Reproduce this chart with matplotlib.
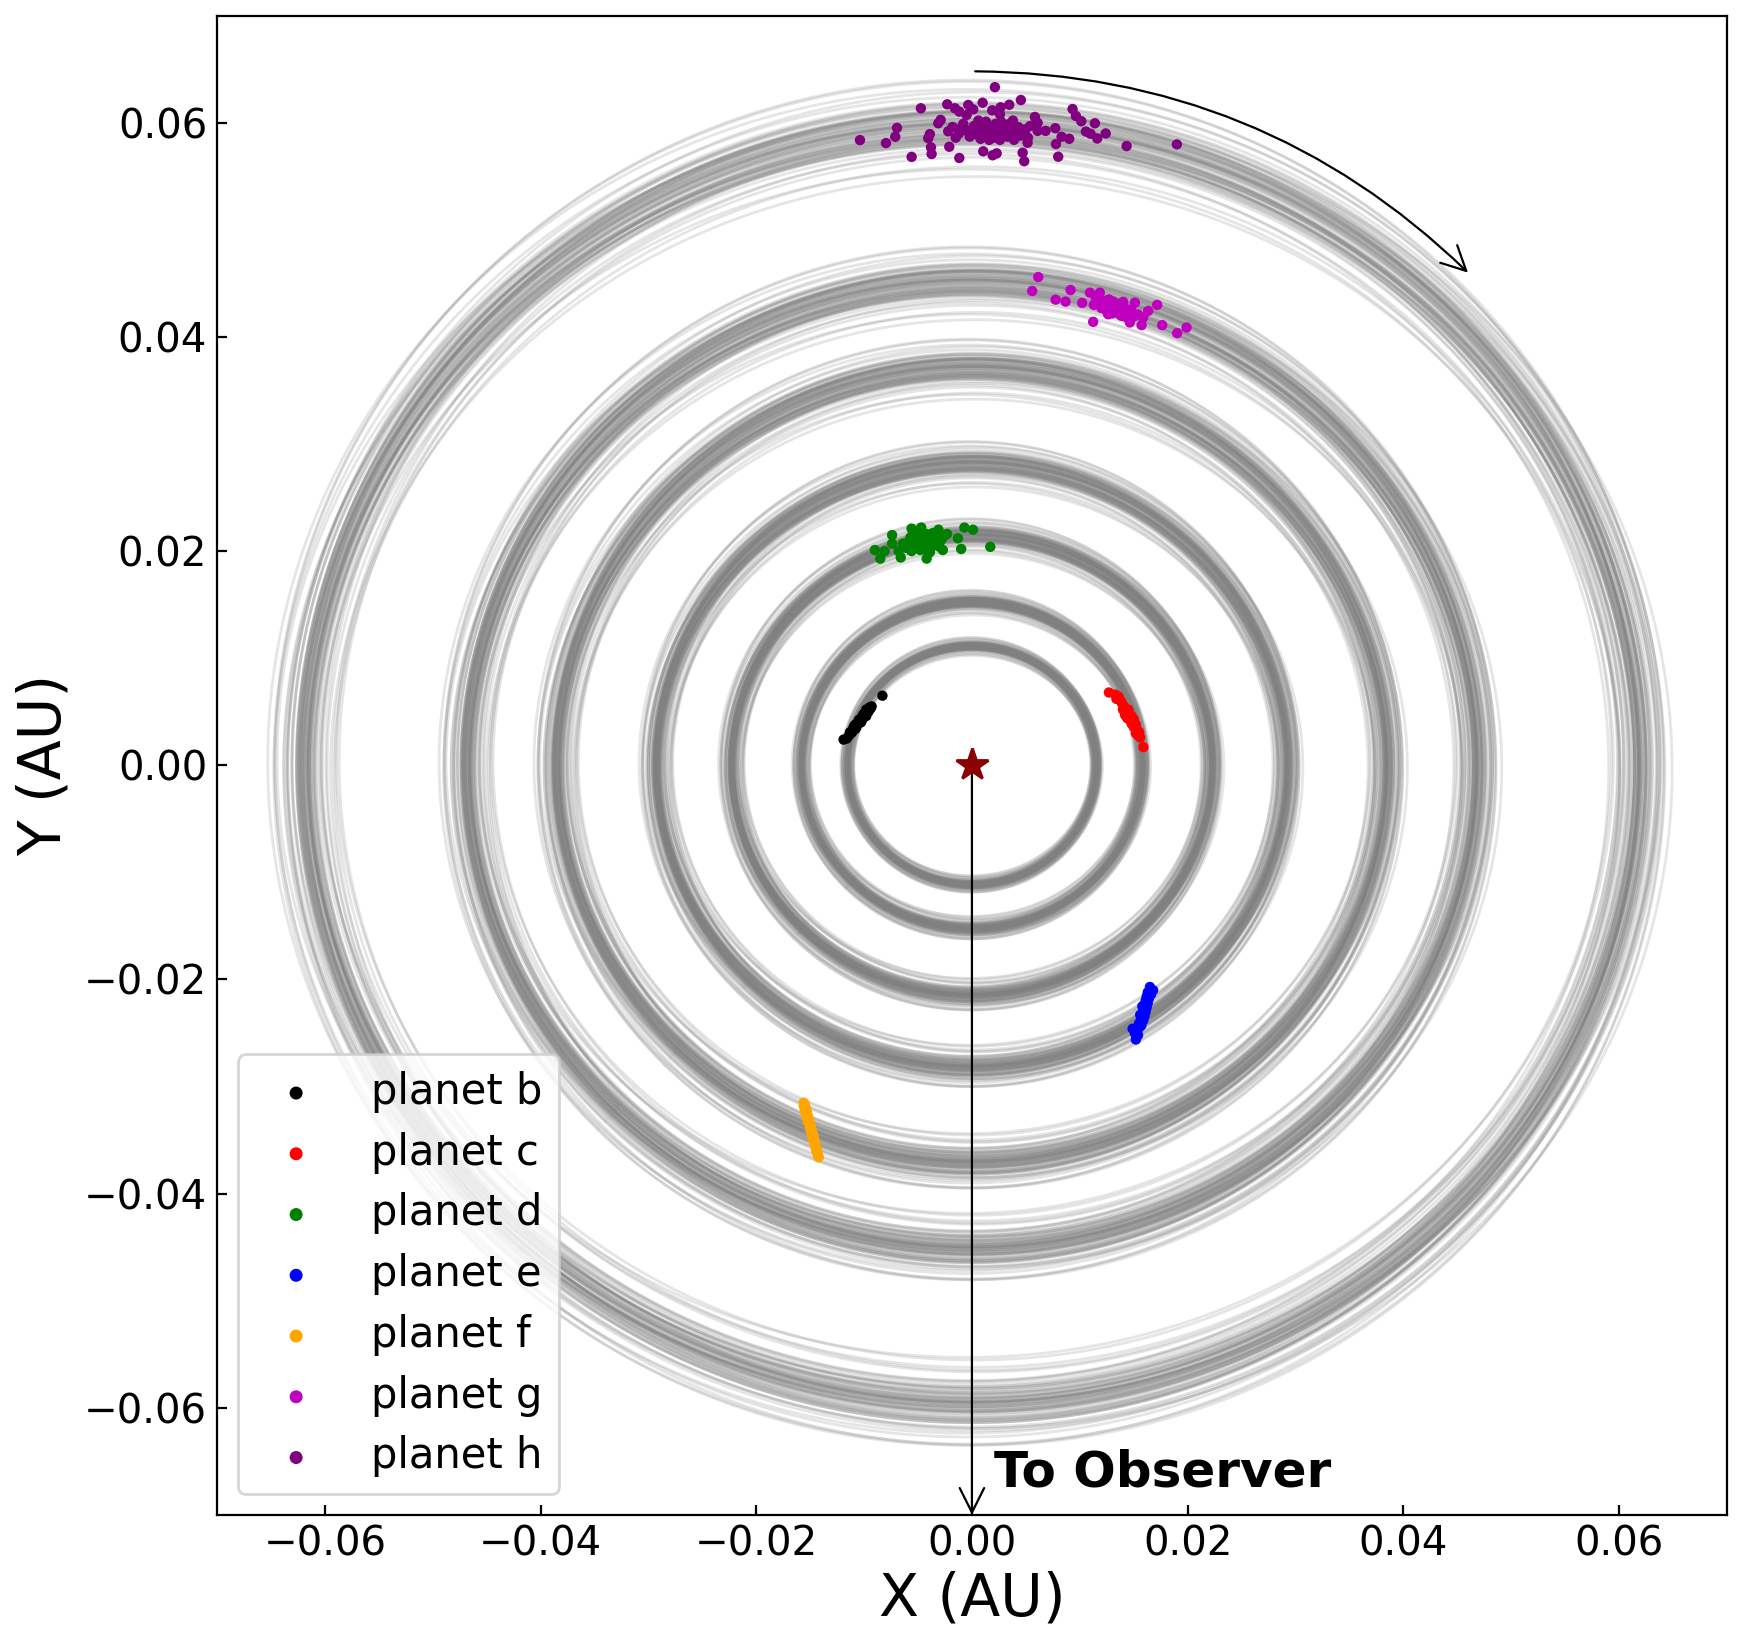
import numpy as np
import matplotlib
matplotlib.use("Agg")
import matplotlib.pyplot as plt

# ---------------- data ----------------
planet_names = ["planet b", "planet c", "planet d", "planet e", "planet f", "planet g", "planet h"]
planet_colors = ["black", "red", "green", "blue", "orange", "m", "purple"]
semi_major = [0.01154, 0.01580, 0.02227, 0.02925, 0.03849, 0.04683, 0.06189]

# orbit posterior samples: size scale, vertical (projected) axis ratio, centre offsets (fraction of a)
scale_samples = [1.000, 0.993, 1.007, 0.996, 1.004, 0.989, 1.011, 0.999, 1.001, 0.986,
                 1.014, 0.995, 1.005, 0.991, 1.009, 0.998, 1.002, 0.983, 1.017, 0.996,
                 1.004, 0.992, 1.008, 0.979, 1.021, 0.997, 1.003, 0.990, 1.010, 0.973,
                 1.027, 0.999, 1.001, 0.987, 1.013, 0.994, 1.006, 0.981, 1.019, 1.000,
                 0.996, 1.004, 0.992, 1.008, 0.985, 1.015, 0.999, 1.001, 0.990, 1.010,
                 0.971, 1.029, 0.997, 1.003, 0.993, 1.007, 0.978, 1.023, 0.994, 1.006,
                 0.962, 1.038, 0.966, 1.035, 0.958, 1.042, 0.969, 1.031, 0.955, 1.045,
                 0.964, 1.036, 0.960, 1.040, 0.972, 1.028]
ratio_samples = [0.965, 0.955, 0.975, 0.961, 0.970, 0.951, 0.979, 0.964, 0.967, 0.959,
                 0.973, 0.947, 0.982, 0.966, 0.963, 0.958, 0.976, 0.968, 0.953, 0.971,
                 0.964, 0.943, 0.986, 0.960, 0.970, 0.967, 0.962, 0.954, 0.978, 0.965,
                 0.969, 0.949, 0.981, 0.961, 0.973, 0.964, 0.967, 0.956, 0.976, 0.940,
                 0.989, 0.966, 0.963, 0.958, 0.972, 0.952, 0.979, 0.967, 0.962, 0.969,
                 0.960, 0.974, 0.949, 0.983, 0.964, 0.966, 0.955, 0.977, 0.961, 0.968,
                 0.945, 0.985, 0.930, 0.995, 0.960, 0.975, 0.925, 0.990, 0.950, 0.970,
                 0.990, 0.935, 0.965, 0.955, 0.980, 0.940]
cx_samples = [0.000, 0.003, -0.002, 0.001, -0.004, 0.002, -0.001, 0.004, -0.003, 0.000,
              0.002, -0.002, 0.005, -0.001, 0.001, -0.005, 0.003, 0.000, -0.002, 0.004,
              -0.003, 0.001, -0.001, 0.006, -0.004, 0.002, 0.000, -0.006, 0.003, -0.002,
              0.001, 0.004, -0.003, 0.000, 0.002, -0.001, 0.005, -0.004, 0.001, -0.002,
              0.003, -0.003, 0.000, 0.002, -0.005, 0.004, -0.001, 0.001, 0.006, -0.002,
              -0.004, 0.002, 0.001, -0.003, 0.000, 0.003, -0.002, 0.004, -0.001, 0.002,
              0.008, -0.007, 0.005, -0.009, 0.010, -0.004, -0.008, 0.006, 0.003, -0.010,
              0.007, -0.005, -0.006, 0.009, 0.004, -0.003]
cy_samples = [0.002, -0.001, 0.003, -0.004, 0.000, 0.001, -0.002, 0.004, 0.000, -0.003,
              -0.001, 0.005, -0.002, 0.002, -0.004, 0.000, 0.003, -0.001, 0.006, -0.003,
              0.001, -0.005, 0.002, 0.000, 0.003, -0.002, 0.004, 0.001, -0.001, 0.005,
              -0.003, 0.000, 0.001, -0.006, 0.002, 0.004, -0.002, 0.000, 0.003, -0.004,
              0.000, 0.002, -0.004, 0.005, 0.001, -0.001, 0.003, -0.005, 0.000, 0.002,
              0.004, -0.002, 0.000, 0.001, -0.003, 0.002, 0.005, -0.001, -0.004, 0.003,
              -0.006, 0.009, -0.010, 0.004, 0.007, -0.008, 0.003, -0.005, 0.010, 0.006,
              -0.009, 0.008, -0.004, -0.007, 0.005, 0.002]

b_x = [-0.0119, -0.0112, -0.0116, -0.0110, -0.0108, -0.0113, -0.0106, -0.0104, -0.0109, -0.0102,
       -0.0100, -0.0105, -0.0098, -0.0101, -0.0096, -0.0099, -0.0094, -0.0097, -0.0103, -0.0107,
       -0.0095, -0.0100, -0.0093, -0.0111, -0.0083, -0.0098, -0.0104, -0.0101, -0.0108, -0.0114]
b_y = [0.0024, 0.0030, 0.0025, 0.0035, 0.0034, 0.0031, 0.0039, 0.0041, 0.0037, 0.0042,
       0.0046, 0.0042, 0.0046, 0.0045, 0.0050, 0.0049, 0.0053, 0.0051, 0.0040, 0.0036,
       0.0054, 0.0048, 0.0055, 0.0031, 0.0065, 0.0052, 0.0043, 0.0047, 0.0038, 0.0028]

c_x = [0.0127, 0.0133, 0.0136, 0.0134, 0.0139, 0.0141, 0.0143, 0.0140, 0.0145, 0.0142,
       0.0146, 0.0148, 0.0144, 0.0147, 0.0149, 0.0150, 0.0152, 0.0151, 0.0153, 0.0155,
       0.0154, 0.0156, 0.0159, 0.0146, 0.0143, 0.0148, 0.0150, 0.0145, 0.0138, 0.0152]
c_y = [0.0068, 0.0066, 0.0064, 0.0062, 0.0058, 0.0055, 0.0051, 0.0052, 0.0049, 0.0047,
       0.0045, 0.0046, 0.0044, 0.0042, 0.0040, 0.0043, 0.0038, 0.0035, 0.0033, 0.0031,
       0.0028, 0.0026, 0.0017, 0.0048, 0.0046, 0.0039, 0.0036, 0.0052, 0.0060, 0.0030]

d_x = [-0.0090, -0.0085, -0.0081, -0.0074, -0.0074, -0.0068, -0.0066, -0.0056, -0.0047, -0.0042,
       -0.0031, -0.0027, -0.0023, -0.0013, -0.0010, -0.0007, 0.0001, 0.0017,
       -0.0045, -0.0050, -0.0040, -0.0055, -0.0035, -0.0048, -0.0042, -0.0058, -0.0032, -0.0052,
       -0.0038, -0.0046, -0.0061, -0.0028, -0.0044, -0.0050, -0.0036, -0.0056, -0.0041, -0.0047,
       -0.0030, -0.0053, -0.0039, -0.0064, -0.0043, -0.0049, -0.0034, -0.0057, -0.0026, -0.0045]
d_y = [0.0201, 0.0193, 0.0200, 0.0215, 0.0207, 0.0200, 0.0194, 0.0221, 0.0222, 0.0193,
       0.0220, 0.0201, 0.0216, 0.0212, 0.0202, 0.0222, 0.0220, 0.0204,
       0.0209, 0.0212, 0.0206, 0.0205, 0.0214, 0.0201, 0.0216, 0.0210, 0.0208, 0.0215,
       0.0203, 0.0213, 0.0203, 0.0211, 0.0205, 0.0207, 0.0217, 0.0200, 0.0211, 0.0218,
       0.0204, 0.0209, 0.0199, 0.0207, 0.0214, 0.0204, 0.0211, 0.0213, 0.0214, 0.0202]

e_x = [0.0165, 0.0168, 0.0163, 0.0166, 0.0162, 0.0164, 0.0161, 0.0163, 0.0160, 0.0162,
       0.0159, 0.0161, 0.0158, 0.0160, 0.0157, 0.0159, 0.0156, 0.0157, 0.0155, 0.0153,
       0.0149, 0.0151, 0.0154, 0.0152, 0.0160, 0.0158, 0.0164, 0.0156, 0.0162, 0.0155]
e_y = [-0.0207, -0.0210, -0.0212, -0.0214, -0.0216, -0.0218, -0.0220, -0.0222, -0.0224, -0.0226,
       -0.0228, -0.0230, -0.0232, -0.0234, -0.0236, -0.0238, -0.0240, -0.0243, -0.0245, -0.0247,
       -0.0246, -0.0250, -0.0252, -0.0256, -0.0229, -0.0225, -0.0215, -0.0233, -0.0219, -0.0241]

f_x = [-0.01560, -0.01548, -0.01560, -0.01540, -0.01550, -0.01530, -0.01540, -0.01522, -0.01530, -0.01512,
       -0.01522, -0.01502, -0.01510, -0.01494, -0.01502, -0.01484, -0.01492, -0.01474, -0.01482, -0.01466,
       -0.01474, -0.01456, -0.01464, -0.01448, -0.01454, -0.01440, -0.01444, -0.01431, -0.01430, -0.01420]
f_y = [-0.0315, -0.0317, -0.0318, -0.0320, -0.0322, -0.0323, -0.0325, -0.0327, -0.0329, -0.0330,
       -0.0332, -0.0334, -0.0335, -0.0337, -0.0339, -0.0341, -0.0342, -0.0344, -0.0346, -0.0347,
       -0.0349, -0.0351, -0.0352, -0.0354, -0.0356, -0.0358, -0.0360, -0.0362, -0.0364, -0.0366]

g_x = [0.00615, 0.00559, 0.00776, 0.00868, 0.00915, 0.01022, 0.01094, 0.01124, 0.01186, 0.01211,
       0.01263, 0.01310, 0.01387, 0.01402, 0.01464, 0.01511, 0.01573, 0.01588, 0.01634, 0.01717,
       0.01764, 0.01903, 0.01990,
       0.0128, 0.0122, 0.0134, 0.0118, 0.0140, 0.0125, 0.0131, 0.0146, 0.0115, 0.0137,
       0.0120, 0.0143, 0.0127, 0.0150, 0.0133, 0.0124, 0.0139, 0.0119, 0.0154, 0.0130,
       0.0136, 0.0126, 0.0142, 0.0113, 0.0148]
g_y = [0.04559, 0.04429, 0.04348, 0.04330, 0.04438, 0.04318, 0.04413, 0.04141, 0.04413, 0.04320,
       0.04212, 0.04320, 0.04197, 0.04327, 0.04135, 0.04320, 0.04110, 0.04181, 0.04243, 0.04299,
       0.04110, 0.04035, 0.04088,
       0.0429, 0.0433, 0.0426, 0.0431, 0.0428, 0.0424, 0.0433, 0.0422, 0.0436, 0.0421,
       0.0427, 0.0426, 0.0435, 0.0419, 0.0430, 0.0429, 0.0424, 0.0434, 0.0421, 0.0422,
       0.0431, 0.0432, 0.0419, 0.0430, 0.0425]

h_x = [-0.01038, -0.00797, -0.00711, -0.00695, -0.00559, -0.00473, -0.00374, -0.00380, -0.00405, -0.00390,
       -0.00312, -0.00290, -0.00229, -0.00210, -0.00158, -0.00117, -0.00117, -0.00049, -0.00034, 0.00012,
       0.00099, 0.00105, 0.00188, 0.00192, 0.00229, 0.00266, 0.00260, 0.00346, 0.00454, 0.00213,
       0.00470, 0.00485, 0.00516, 0.00584, 0.00609, 0.00609, 0.00683, 0.00773, 0.00779, 0.00800,
       0.00831, 0.00902, 0.00933, 0.00964, 0.01014, 0.01057, 0.01100, 0.01140, 0.01162, 0.01240,
       0.01434, 0.01900,
       0.0017, 0.0010, 0.0024, 0.0005, 0.0030, -0.0005, 0.0040, 0.0012, 0.0021, -0.0012,
       0.0035, 0.0008, 0.0045, -0.0018, 0.0027, 0.0014, 0.0050, -0.0008, 0.0033, 0.0019,
       0.0002, 0.0039, 0.0025, -0.0015, 0.0011, 0.0054, 0.0006, 0.0028, -0.0022, 0.0043,
       0.0016, 0.0036, -0.0002, 0.0022, 0.0009, 0.0047, -0.0010, 0.0031, 0.0013, 0.0052,
       0.0019, -0.0003, 0.0038, 0.0026, 0.0004]
h_y = [0.05838, 0.05810, 0.05869, 0.05952, 0.05681, 0.06135, 0.05708, 0.05770, 0.05856, 0.05894,
       0.05995, 0.06026, 0.06172, 0.05776, 0.06135, 0.05671, 0.06104, 0.06073, 0.06166, 0.06125,
       0.06187, 0.05733, 0.06116, 0.05696, 0.05714, 0.06144, 0.06079, 0.06168, 0.06212, 0.06332,
       0.05720, 0.05640, 0.05813, 0.06054, 0.05999, 0.05924, 0.05924, 0.05949, 0.05801, 0.05683,
       0.05869, 0.05850, 0.06128, 0.06063, 0.06014, 0.05918, 0.05897, 0.05995, 0.05853, 0.05900,
       0.05782, 0.05798,
       0.0592, 0.0594, 0.0590, 0.0589, 0.0595, 0.0593, 0.0591, 0.0598, 0.0586, 0.0590,
       0.0599, 0.0585, 0.0588, 0.0596, 0.0601, 0.0589, 0.0594, 0.0599, 0.0587, 0.0596,
       0.0597, 0.0584, 0.0593, 0.0586, 0.0591, 0.0597, 0.0602, 0.0589, 0.0592, 0.0596,
       0.0584, 0.0593, 0.0587, 0.0599, 0.0595, 0.0590, 0.0595, 0.0591, 0.0601, 0.0586,
       0.0588, 0.0591, 0.0602, 0.0584, 0.0593]

planet_x = [b_x, c_x, d_x, e_x, f_x, g_x, h_x]
planet_y = [b_y, c_y, d_y, e_y, f_y, g_y, h_y]

x_ticks = [-0.06, -0.04, -0.02, 0.00, 0.02, 0.04, 0.06]
y_ticks = [-0.06, -0.04, -0.02, 0.00, 0.02, 0.04, 0.06]

# ---------------- plot ----------------
fig = plt.figure(figsize=(8.72, 8.23), dpi=200)
ax = fig.add_axes([0.1244, 0.0796, 0.8658, 0.9109])

theta = np.linspace(1.25 * np.pi, 3.25 * np.pi, 600)
for a in semi_major:
    for s, q, cx, cy in zip(scale_samples, ratio_samples, cx_samples, cy_samples):
        ax.plot(a * (cx + s * np.cos(theta)), a * (cy + s * q * np.sin(theta)),
                color="gray", alpha=0.2, lw=1.0, zorder=1)

for xs, ys, col, name in zip(planet_x, planet_y, planet_colors, planet_names):
    ax.scatter(xs, ys, s=14, color=col, label=name, zorder=3, edgecolors="none")

ax.plot([0], [0], marker="*", color="darkred", markersize=12, zorder=4, linestyle="none")

# arrow to observer
ax.annotate("", xy=(0.0, -0.07), xytext=(0.0, 0.0),
            arrowprops=dict(arrowstyle="->", color="black", lw=0.8,
                            mutation_scale=22, shrinkA=0, shrinkB=0), zorder=2)
ax.text(0.002, -0.0673, "To Observer", fontsize=18, fontweight="bold",
        ha="left", va="baseline")

# direction of motion arrow
ax.annotate("", xy=(0.046, 0.046), xytext=(0.0003, 0.0648),
            arrowprops=dict(arrowstyle="->", color="black", lw=0.8,
                            mutation_scale=22, shrinkA=0, shrinkB=0,
                            connectionstyle="arc3,rad=-0.2"))

ax.set_xlim(-0.07, 0.07)
ax.set_ylim(-0.07, 0.07)
ax.set_xticks(x_ticks)
ax.set_yticks(y_ticks)
ax.tick_params(direction="in", labelsize=14.5)
ax.set_xlabel("X (AU)", fontsize=21, labelpad=2)
ax.set_ylabel("Y (AU)", fontsize=21)

ax.legend(loc="lower left", fontsize=15, markerscale=1.25, labelspacing=0.45,
          scatterpoints=1)

fig.savefig("out.png", dpi=200)
